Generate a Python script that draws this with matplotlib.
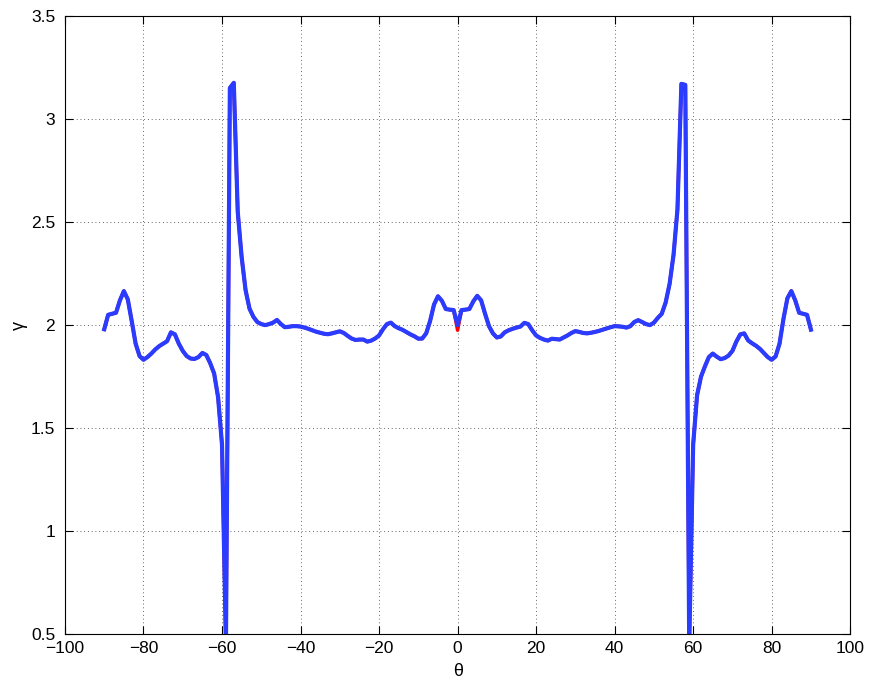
import numpy as np
import matplotlib
matplotlib.use("Agg")
import matplotlib.pyplot as plt

plt.rcParams["font.family"] = ["Liberation Sans", "DejaVu Sans"]

# angle (deg) and gamma
theta = np.arange(-90, 91)

gamma_left = [
    1.98, 2.05, 2.055, 2.06, 2.12, 2.165, 2.125, 2.02, 1.91, 1.85,      # -90..-81
    1.832, 1.845, 1.862, 1.882, 1.898, 1.91, 1.922, 1.965, 1.955, 1.91,  # -80..-71
    1.875, 1.85, 1.838, 1.836, 1.845, 1.865, 1.855, 1.815, 1.765, 1.65,  # -70..-61
    1.42, 0.45, 3.15, 3.175, 2.55, 2.33, 2.17, 2.08, 2.04, 2.015,        # -60..-51
    2.005, 2.0, 2.005, 2.012, 2.025, 2.005, 1.99, 1.992, 1.995, 1.995,   # -50..-41
    1.993, 1.988, 1.982, 1.975, 1.968, 1.963, 1.958, 1.956, 1.96, 1.965, # -40..-31
    1.97, 1.962, 1.948, 1.935, 1.928, 1.93, 1.93, 1.92, 1.925, 1.935,    # -30..-21
    1.95, 1.98, 2.005, 2.012, 1.995, 1.985, 1.977, 1.966, 1.955, 1.946,  # -20..-11
    1.934, 1.935, 1.96, 2.02, 2.1, 2.14, 2.118, 2.078, 2.075, 2.073,     # -10..-1
]
gamma_zero = [2.0]
gamma_right = [
    2.073, 2.075, 2.078, 2.115, 2.142, 2.12, 2.055, 1.995, 1.96, 1.94,   # 1..10
    1.945, 1.965, 1.975, 1.982, 1.988, 1.993, 2.011, 2.005, 1.975, 1.95, # 11..20
    1.938, 1.93, 1.925, 1.934, 1.932, 1.93, 1.94, 1.95, 1.962, 1.971,    # 21..30
    1.967, 1.962, 1.96, 1.963, 1.967, 1.972, 1.978, 1.984, 1.99, 1.995,  # 31..40
    1.994, 1.992, 1.988, 1.995, 2.015, 2.024, 2.015, 2.005, 2.0, 2.012,  # 41..50
    2.035, 2.055, 2.11, 2.2, 2.34, 2.56, 3.17, 3.165, 0.45, 1.42,        # 51..60
    1.66, 1.75, 1.8, 1.845, 1.862, 1.847, 1.835, 1.84, 1.852, 1.875,     # 61..70
    1.92, 1.955, 1.96, 1.926, 1.912, 1.9, 1.885, 1.865, 1.845, 1.832,    # 71..80
    1.848, 1.91, 2.03, 2.13, 2.165, 2.12, 2.06, 2.055, 2.05, 1.978,      # 81..90
]
gamma_blue = np.array(gamma_left + gamma_zero + gamma_right)

# red curve is the same except at theta = 0
gamma_red_zero = 1.975
gamma_red = gamma_blue.copy()
gamma_red[theta == 0] = gamma_red_zero

fig = plt.figure(figsize=(8.72, 6.87), dpi=100)
ax = fig.add_axes([0.0745, 0.0765, 0.9005, 0.9005])

ax.plot(theta, gamma_red, color="red", lw=2.5)
ax.plot(theta, gamma_blue, color="#2a3cff", lw=3.0)

ax.set_xlim(-100, 100)
ax.set_ylim(0.5, 3.5)
ax.set_xticks(np.arange(-100, 101, 20))
ax.set_yticks(np.arange(0.5, 3.51, 0.5))
ax.set_yticklabels(["0.5", "1", "1.5", "2", "2.5", "3", "3.5"])
ax.set_xlabel("θ", fontsize=13, labelpad=5)
ax.set_ylabel("γ", fontsize=13, labelpad=2)

ax.grid(True, color="k", linestyle=(0, (1, 3.5)), lw=0.6, alpha=0.8)
ax.tick_params(direction="in", top=True, right=True, labelsize=12.5, length=6)
ax.tick_params(axis="x", pad=5)
ax.tick_params(axis="y", pad=7)
for s in ax.spines.values():
    s.set_linewidth(0.8)

plt.savefig("out.png", dpi=100)
plt.close()
